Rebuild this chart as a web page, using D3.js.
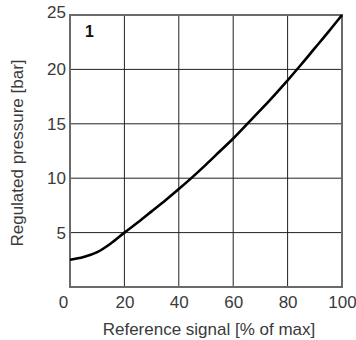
<!DOCTYPE html>
<html><head><meta charset="utf-8">
<script src="https://cdn.jsdelivr.net/npm/d3@7"></script>
<style>body{margin:0;background:#fff}svg{display:block}text{font-family:"Liberation Sans",Arial,sans-serif}</style>
</head><body>
<svg id="c" width="356" height="340"></svg>
<script>
const signal   = [0, 5, 10, 15, 20, 25, 30, 35, 40, 45, 50, 55, 60, 65, 70, 75, 80, 85, 90, 95, 100];
const pressure = [2.5, 2.75, 3.2, 4.0, 5.0, 5.95, 6.95, 7.95, 9.0, 10.1, 11.25, 12.45, 13.65, 14.95, 16.25, 17.6, 19.0, 20.45, 21.95, 23.45, 25];
const xTicks = [0, 20, 40, 60, 80, 100];
const yTicks = [5, 10, 15, 20, 25];
const xTitle = "Reference signal [% of max]";
const yTitle = "Regulated pressure [bar]";
const curveLabel = "1";

const svg = d3.select("#c");
const L = 70, R = 342, T = 15, B = 287;
const x = d3.scaleLinear().domain([0, 100]).range([L, R]);
const y = d3.scaleLinear().domain([0, 25]).range([B, T]);
const g = svg.append("g");
const FF = '"Liberation Sans",Arial,sans-serif';

// grid
g.selectAll(".gx").data(xTicks.filter(d => d > 0 && d < 100)).enter().append("line")
  .attr("x1", d => x(d)).attr("x2", d => x(d)).attr("y1", T).attr("y2", B)
  .attr("stroke", "#222").attr("stroke-width", 1);
g.selectAll(".gy").data(yTicks.filter(d => d < 25)).enter().append("line")
  .attr("y1", d => y(d)).attr("y2", d => y(d)).attr("x1", L).attr("x2", R)
  .attr("stroke", "#222").attr("stroke-width", 1);
// frame
g.append("rect").attr("x", L).attr("y", T).attr("width", R - L).attr("height", B - T)
  .attr("fill", "none").attr("stroke", "#6a6a6a").attr("stroke-width", 2);

// axes labels via d3 axes
const xa = svg.append("g").attr("transform", `translate(0,${B})`)
  .call(d3.axisBottom(x).tickValues(xTicks).tickSize(0).tickPadding(9));
xa.select(".domain").remove();
xa.selectAll("text").attr("font-size", 17).attr("fill", "#3a3a3a").attr("font-family", FF)
  .attr("dx", d => d === 0 ? -7 : 0);
const ya = svg.append("g").attr("transform", `translate(${L},0)`)
  .call(d3.axisLeft(y).tickValues(yTicks).tickSize(0).tickPadding(4));
ya.select(".domain").remove();
ya.selectAll("text").attr("font-size", 17).attr("fill", "#3a3a3a").attr("font-family", FF)
  .attr("dy", d => d === 25 ? "0.12em" : "0.32em");

svg.append("text").attr("x", 209).attr("y", 335).attr("text-anchor", "middle")
  .attr("font-size", 17).attr("fill", "#3a3a3a").text(xTitle);
svg.append("text").attr("transform", `translate(23,${(T + B) / 2 + 2}) rotate(-90)`)
  .attr("text-anchor", "middle").attr("font-size", 17).attr("fill", "#3a3a3a").text(yTitle);

// curve
const pts = signal.map((s, i) => [s, pressure[i]]);
svg.append("path").datum(pts)
  .attr("d", d3.line().x(d => x(d[0])).y(d => y(d[1])).curve(d3.curveMonotoneX))
  .attr("fill", "none").attr("stroke", "#000").attr("stroke-width", 2.6);

svg.append("text").attr("x", 89.5).attr("y", 37).attr("text-anchor", "middle")
  .attr("font-size", 16).attr("font-weight", "bold").attr("fill", "#111").text(curveLabel);
</script>
</body></html>
